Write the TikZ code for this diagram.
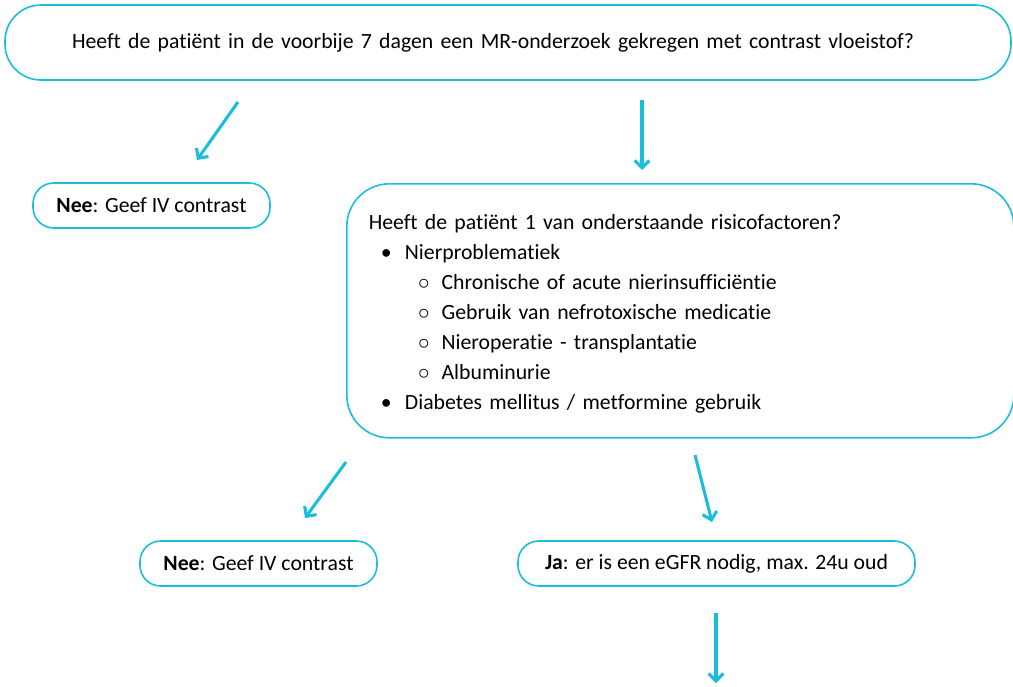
\documentclass[tikz,border=0pt]{standalone}
\usepackage{fontspec}
\setmainfont{Carlito}[RawFeature=-liga]
\usetikzlibrary{arrows.meta}
\definecolor{flowcyan}{RGB}{24,190,218}

\begin{document}
\begin{tikzpicture}[x=0.75pt, y=-0.75pt, font=\fontsize{16.3}{22.5}\selectfont, every node/.style={draw=flowcyan, line width=1.2pt, text=black, inner sep=0pt}, box/.style={rectangle, minimum height=33.75pt, rounded corners=15.5pt}, pijl/.style={draw=flowcyan, line width=2.3pt, -{Straight Barb[length=5.5pt, width=11pt]}}]

    \useasboundingbox (0,0) rectangle (1013,686);

    % Nodes
    \node[rectangle, minimum height=56.25pt, rounded corners=27pt, text width=654pt, inner xsep=50.25pt, align=left] (vraag) at (508,42.5) {Heeft de patiënt in de voorbije 7 dagen een MR-onderzoek gekregen met contrast vloeistof?};

    \node[box, minimum width=177.75pt] (nee1) at (151.5,205.5) {\textbf{Nee}: Geef IV contrast};

    \node[rectangle, anchor=north west, minimum height=190.5pt, rounded corners=32pt, text width=467.25pt, inner xsep=16.5pt, align=left] (risico) at (346,183) {\rule{0pt}{16.5pt}Heeft de patiënt 1 van onderstaande risicofactoren?\\
    \hspace*{9pt}\textbullet\hspace{10pt}Nierproblematiek\\
    \hspace*{37pt}$\circ$\hspace{9pt}Chronische of acute nierinsufficiëntie\\
    \hspace*{37pt}$\circ$\hspace{9pt}Gebruik van nefrotoxische medicatie\\
    \hspace*{37pt}$\circ$\hspace{9pt}Nieroperatie - transplantatie\\
    \hspace*{37pt}$\circ$\hspace{9pt}Albuminurie\\
    \hspace*{9pt}\textbullet\hspace{10pt}Diabetes mellitus / metformine gebruik};

    \node[box, minimum width=177.75pt] (nee2) at (258.5,563.5) {\textbf{Nee}: Geef IV contrast};
    \node[box, minimum width=297.75pt] (ja) at (716.5,563.5) {\textbf{Ja}: er is een eGFR nodig, max. 24u oud};

    % Arrow ends
    \coordinate (a1) at (238,102);
    \coordinate (b1) at (197,160);
    \coordinate (a2) at (642,100);
    \coordinate (b2) at (642,170);
    \coordinate (a3) at (346,462);
    \coordinate (b3) at (305,518);
    \coordinate (a4) at (695,455);
    \coordinate (b4) at (712,522);
    \coordinate (a5) at (716,613);
    \coordinate (b5) at (716,683);

    % Arrows
    \draw[pijl] (a1) -- (b1);
    \draw[pijl] (a2) -- (b2);
    \draw[pijl] (a3) -- (b3);
    \draw[pijl] (a4) -- (b4);
    \draw[pijl] (a5) -- (b5);

\end{tikzpicture}
\end{document}
